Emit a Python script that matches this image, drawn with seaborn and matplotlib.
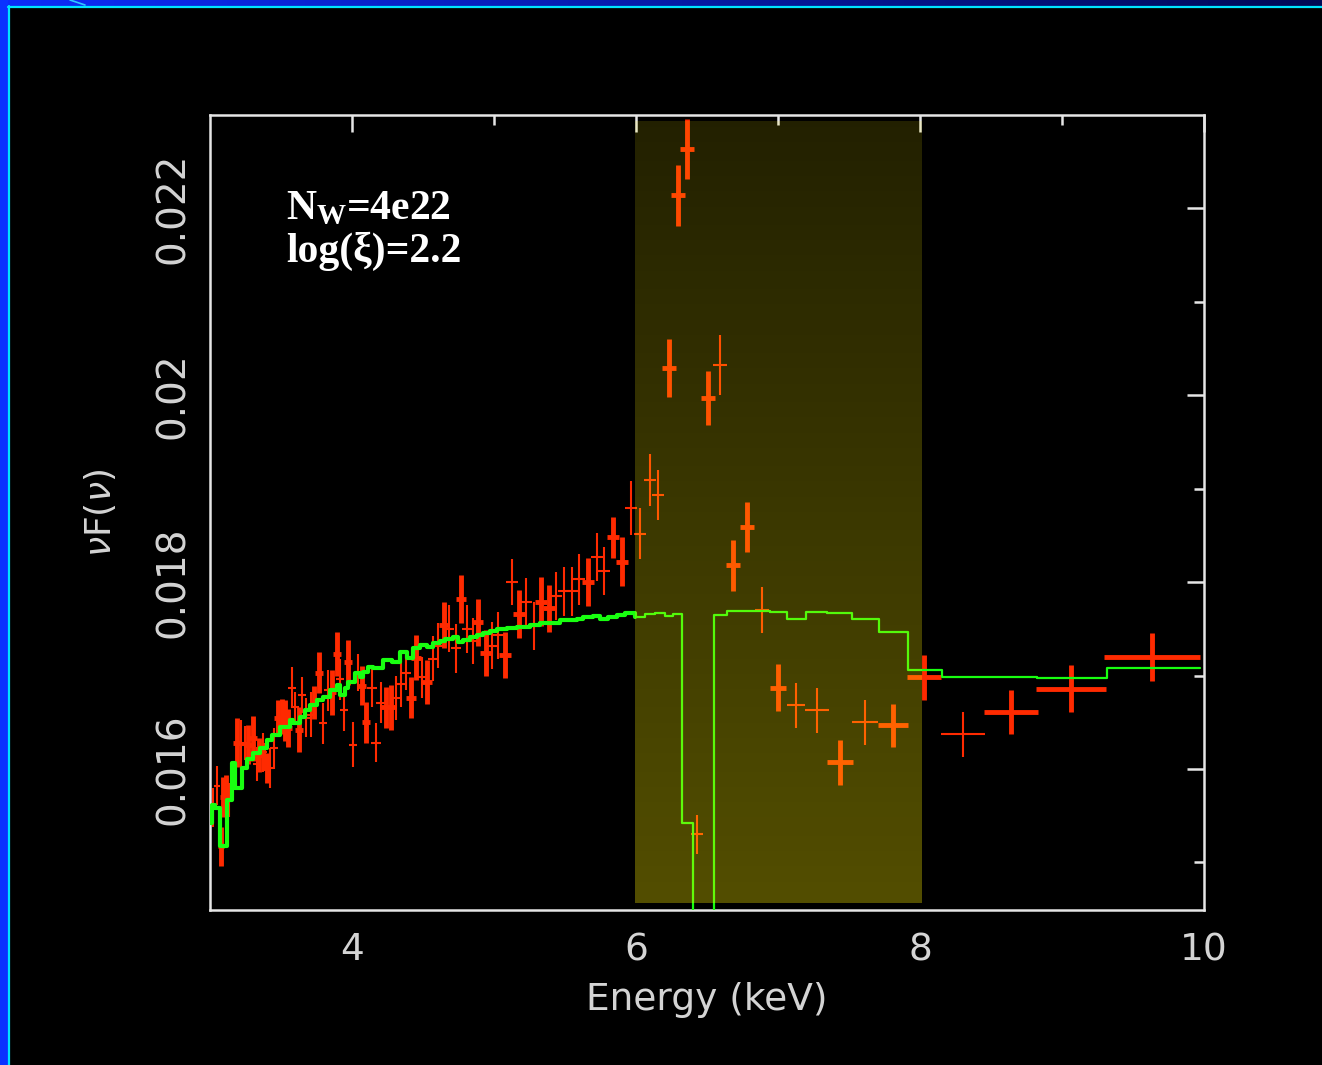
import numpy as np
import pandas as pd
import matplotlib
matplotlib.use("Agg")
import matplotlib.pyplot as plt
from matplotlib.lines import Line2D
import seaborn as sns

# ---------------- data ----------------
# spectrum points, thick-bar group: energy (keV), energy half-width, nuF(nu), error
set1_energy = [3.077, 3.092, 3.113, 3.190, 3.268, 3.303, 3.345, 3.401, 3.479, 3.507,
               3.528, 3.549, 3.627, 3.732, 3.768, 3.859, 3.894, 3.972, 4.070, 4.099,
               4.239, 4.275, 4.415, 4.451, 4.528, 4.648, 4.768, 4.887, 4.944, 5.077,
               5.176, 5.331, 5.387, 5.662, 5.838, 5.901, 6.232, 6.296, 6.359, 6.507,
               6.683, 6.782, 7.000, 7.437, 7.810, 8.028, 8.641, 9.063, 9.634]
set1_halfwidth = [0.02, 0.02, 0.02, 0.025, 0.025, 0.025, 0.025, 0.025, 0.025, 0.025,
                  0.025, 0.025, 0.03, 0.03, 0.03, 0.03, 0.03, 0.03, 0.03, 0.03,
                  0.035, 0.035, 0.035, 0.035, 0.035, 0.035, 0.035, 0.035, 0.04, 0.04,
                  0.04, 0.04, 0.04, 0.045, 0.045, 0.045, 0.05, 0.05, 0.05, 0.05,
                  0.05, 0.05, 0.056, 0.092, 0.106, 0.12, 0.19, 0.246, 0.338]
set1_flux = [0.01517, 0.01570, 0.01572, 0.01628, 0.01626, 0.01633, 0.01615, 0.01601, 0.01655, 0.01656,
             0.01652, 0.01644, 0.01642, 0.01671, 0.01703, 0.01682, 0.01723, 0.01714, 0.01689, 0.01650,
             0.01666, 0.01666, 0.01676, 0.01719, 0.01693, 0.01754, 0.01782, 0.01757, 0.01724, 0.01722,
             0.01766, 0.01779, 0.01772, 0.01800, 0.01848, 0.01822, 0.02029, 0.02214, 0.02264, 0.01997,
             0.01818, 0.01859, 0.01687, 0.01607, 0.01647, 0.01698, 0.01661, 0.01686, 0.01720]
set1_err = [0.00021, 0.00021, 0.00021, 0.00026, 0.00021, 0.00024, 0.00018, 0.00016, 0.00019, 0.00019,
            0.00022, 0.00020, 0.00024, 0.00018, 0.00022, 0.00024, 0.00024, 0.00024, 0.00021, 0.00022,
            0.00022, 0.00024, 0.00022, 0.00024, 0.00024, 0.00025, 0.00026, 0.00025, 0.00025, 0.00025,
            0.00026, 0.00026, 0.00025, 0.00026, 0.00022, 0.00026, 0.00031, 0.00033, 0.00032, 0.00029,
            0.00027, 0.00027, 0.00025, 0.00024, 0.00023, 0.00024, 0.00024, 0.00025, 0.00026]

# spectrum points, thin-bar group
set2_energy = [3.000, 3.021, 3.049, 3.134, 3.162, 3.218, 3.246, 3.331, 3.373, 3.387,
               3.423, 3.451, 3.577, 3.599, 3.648, 3.676, 3.711, 3.796, 3.831, 3.915,
               3.944, 4.007, 4.042, 4.141, 4.169, 4.204, 4.310, 4.345, 4.380, 4.493,
               4.570, 4.606, 4.683, 4.732, 4.810, 4.852, 4.986, 5.028, 5.127, 5.225,
               5.282, 5.437, 5.493, 5.549, 5.599, 5.725, 5.775, 5.965, 6.028, 6.099,
               6.155, 6.430, 6.592, 6.887, 7.127, 7.275, 7.613, 8.303]
set2_halfwidth = [0.02, 0.02, 0.02, 0.02, 0.02, 0.025, 0.025, 0.025, 0.025, 0.025,
                  0.025, 0.025, 0.03, 0.03, 0.03, 0.03, 0.03, 0.03, 0.03, 0.03,
                  0.03, 0.03, 0.03, 0.035, 0.035, 0.035, 0.035, 0.035, 0.035, 0.035,
                  0.035, 0.035, 0.035, 0.035, 0.035, 0.035, 0.04, 0.04, 0.04, 0.04,
                  0.04, 0.04, 0.045, 0.045, 0.045, 0.045, 0.045, 0.045, 0.045, 0.045,
                  0.045, 0.045, 0.05, 0.05, 0.063, 0.085, 0.092, 0.155]
set2_flux = [0.01553, 0.01559, 0.01582, 0.01567, 0.01593, 0.01626, 0.01628, 0.01605, 0.01618, 0.01613,
             0.01601, 0.01622, 0.01687, 0.01666, 0.01679, 0.01655, 0.01658, 0.01649, 0.01684, 0.01696,
             0.01663, 0.01626, 0.01703, 0.01687, 0.01628, 0.01671, 0.01676, 0.01691, 0.01703, 0.01698,
             0.01718, 0.01732, 0.01750, 0.01729, 0.01750, 0.01737, 0.01732, 0.01743, 0.01800, 0.01779,
             0.01753, 0.01785, 0.01790, 0.01790, 0.01803, 0.01827, 0.01812, 0.01879, 0.01852, 0.01909,
             0.01893, 0.01530, 0.02032, 0.01770, 0.01668, 0.01663, 0.01650, 0.01637]
set2_err = [0.00021, 0.00021, 0.00021, 0.00018, 0.00015, 0.00026, 0.00018, 0.00018, 0.00021, 0.00015,
            0.00021, 0.00022, 0.00022, 0.00016, 0.00019, 0.00021, 0.00024, 0.00022, 0.00022, 0.00022,
            0.00022, 0.00024, 0.00020, 0.00021, 0.00021, 0.00022, 0.00024, 0.00025, 0.00019, 0.00022,
            0.00024, 0.00024, 0.00025, 0.00026, 0.00026, 0.00025, 0.00025, 0.00025, 0.00025, 0.00025,
            0.00026, 0.00026, 0.00026, 0.00026, 0.00027, 0.00026, 0.00026, 0.00029, 0.00027, 0.00028,
            0.00027, 0.00021, 0.00032, 0.00025, 0.00024, 0.00024, 0.00024, 0.00024]

# absorbed model, binned: bin edges (keV) and nuF(nu) level in each bin
model_edges = [3.000, 3.014, 3.035, 3.070, 3.120, 3.155, 3.176, 3.225, 3.261, 3.303,
               3.352, 3.401, 3.437, 3.493, 3.563, 3.585, 3.634, 3.669, 3.704, 3.754,
               3.796, 3.845, 3.894, 3.915, 3.951, 3.972, 4.021, 4.056, 4.077, 4.113,
               4.148, 4.218, 4.282, 4.338, 4.387, 4.430, 4.479, 4.528, 4.570, 4.620,
               4.655, 4.711, 4.746, 4.782, 4.831, 4.880, 4.923, 4.972, 5.021, 5.092,
               5.162, 5.254, 5.324, 5.465, 5.585, 5.627, 5.697, 5.746, 5.803, 5.866,
               5.923, 5.993, 6.063, 6.134, 6.204, 6.261, 6.324, 6.401, 6.549, 6.641,
               6.944, 7.063, 7.197, 7.345, 7.521, 7.711, 7.915, 8.155, 8.824, 9.317,
               9.972]
model_levels = [0.01542, 0.01561, 0.01558, 0.01517, 0.01567, 0.01606, 0.01580, 0.01601, 0.01611, 0.01617,
                0.01622, 0.01631, 0.01636, 0.01645, 0.01652, 0.01649, 0.01656, 0.01663, 0.01668, 0.01674,
                0.01677, 0.01684, 0.01690, 0.01679, 0.01687, 0.01693, 0.01703, 0.01698, 0.01704, 0.01709,
                0.01708, 0.01717, 0.01714, 0.01725, 0.01719, 0.01729, 0.01733, 0.01730, 0.01735, 0.01737,
                0.01739, 0.01741, 0.01736, 0.01738, 0.01741, 0.01743, 0.01745, 0.01748, 0.01750, 0.01751,
                0.01752, 0.01754, 0.01756, 0.01759, 0.01761, 0.01763, 0.01764, 0.01760, 0.01763, 0.01765,
                0.01767, 0.01763, 0.01766, 0.01767, 0.01764, 0.01766, 0.01542, 0.01400, 0.01765, 0.01769,
                0.01768, 0.01761, 0.01768, 0.01767, 0.01761, 0.01747, 0.01706, 0.01698, 0.01697, 0.01708]

# Fe K band highlighted in the plot
band_energy = [5.99, 8.005]

x_ticks = [4, 6, 8, 10]
x_ticklabels = ["4", "6", "8", "10"]
y_ticks = [0.016, 0.018, 0.020, 0.022]
y_ticklabels = ["0.016", "0.018", "0.02", "0.022"]

# ---------------- style ----------------
sns.set_theme(style="dark", rc={"axes.facecolor": "black", "figure.facecolor": "black"})
plt.rcParams["font.family"] = ["DejaVu Sans"]
plt.rcParams["mathtext.fontset"] = "custom"
plt.rcParams["mathtext.rm"] = "Liberation Serif:bold"
plt.rcParams["mathtext.it"] = "Liberation Serif:bold"
plt.rcParams["mathtext.bf"] = "Liberation Serif:bold"

W, H = 1322, 1065
fig = plt.figure(figsize=(W / 100, H / 100), dpi=100, facecolor="black")

# slide frame: blue bands with cyan edge lines
top_ax = fig.add_axes([0, 1 - 6 / H, 1, 6 / H])
grad = np.linspace(0, 1, 256)
c0 = np.array([12, 45, 250]) / 255
c1 = np.array([0, 10, 85]) / 255
top_ax.imshow((c0[None, None, :] * (1 - grad[None, :, None]) + c1[None, None, :] * grad[None, :, None]),
              aspect="auto", extent=[0, 1, 0, 1])
top_ax.set_axis_off()
fig.patches.append(plt.Rectangle((0, 0), 8 / W, 1, transform=fig.transFigure,
                                 facecolor="#0a32ff", edgecolor="none", zorder=1))
fig.lines.append(Line2D([8.5 / W, 8.5 / W], [0, 1 - 6 / H], transform=fig.transFigure,
                        color="#00e5ff", lw=1.6))
fig.lines.append(Line2D([8 / W, 1], [1 - 7 / H, 1 - 7 / H], transform=fig.transFigure,
                        color="#00e5ff", lw=1.6))
fig.lines.append(Line2D([70 / W, 85 / W], [1, 1 - 5 / H], transform=fig.transFigure,
                        color="#30c8ff", lw=1.2))

ax = fig.add_axes([210 / W, 1 - 910 / H, 994 / W, 795 / H])
ax.set_facecolor("black")

red = "#ff2a00"
green = "#18ff10"

# model curve (steps)
model_df = pd.DataFrame({"energy": model_edges,
                         "flux": model_levels + [model_levels[-1]]})
sns.lineplot(data=model_df, x="energy", y="flux", drawstyle="steps-post",
             estimator=None, sort=False, color=green, lw=1.6, ax=ax, zorder=3)
low_df = model_df[model_df["energy"] <= 5.993]
sns.lineplot(data=low_df, x="energy", y="flux", drawstyle="steps-post",
             estimator=None, sort=False, color=green, lw=3.0, ax=ax, zorder=3)

# data points with error bars
ax.errorbar(set1_energy, set1_flux, xerr=set1_halfwidth, yerr=set1_err, fmt="none",
            ecolor=red, elinewidth=3.5, capsize=0, zorder=2)
ax.errorbar(set2_energy, set2_flux, xerr=set2_halfwidth, yerr=set2_err, fmt="none",
            ecolor=red, elinewidth=1.5, capsize=0, zorder=2)

# translucent highlight band with vertical gradient
alpha = np.linspace(0.14, 0.33, 256)
band = np.zeros((256, 1, 4))
band[:, 0, 0] = 1.0
band[:, 0, 1] = 0.94
band[:, 0, 2] = 0.0
band[:, 0, 3] = alpha
ax.imshow(band, aspect="auto", origin="upper",
          extent=[band_energy[0], band_energy[1], 0.01457, 0.02294], zorder=5)

ax.set_xlim(3, 10)
ax.set_ylim(0.01449, 0.0230)

# axes frame and ticks
fg = "#e6e6e6"
for s in ax.spines.values():
    s.set_color(fg)
    s.set_linewidth(1.8)
    s.set_visible(True)
ax.set_xticks(x_ticks)
ax.set_xticklabels(x_ticklabels)
ax.set_xticks([5, 7, 9], minor=True)
ax.set_yticks(y_ticks)
ax.set_yticklabels(y_ticklabels, rotation=90, va="center")
ax.set_yticks([0.015, 0.017, 0.019, 0.021], minor=True)
ax.tick_params(which="both", direction="in", top=True, right=True, color=fg,
               labelcolor="#d4d4d4", width=1.8)
ax.tick_params(which="major", length=12.5)
ax.tick_params(which="minor", length=7)
ax.tick_params(axis="x", which="major", labelsize=27, pad=16)
ax.tick_params(axis="y", which="major", labelsize=28, pad=13)
ax.grid(False)

ax.set_xlabel("Energy (keV)", fontsize=27, color="#d4d4d4", labelpad=10)
ax.set_ylabel(r"$\nu$F($\nu$)", fontsize=26, color="#d4d4d4", labelpad=26,
              math_fontfamily="dejavusans")

# fit parameters
fig.text(286 / W, 1 - 219 / H, r"$N_W$=4e22", family="Liberation Serif", weight="bold",
         fontsize=30, color="white", va="baseline", ha="left")
fig.text(286 / W, 1 - 262 / H, "log(ξ)=2.2", family="Liberation Serif", weight="bold",
         fontsize=30, color="white", va="baseline", ha="left")

fig.savefig("out.png", dpi=100, facecolor="black")
